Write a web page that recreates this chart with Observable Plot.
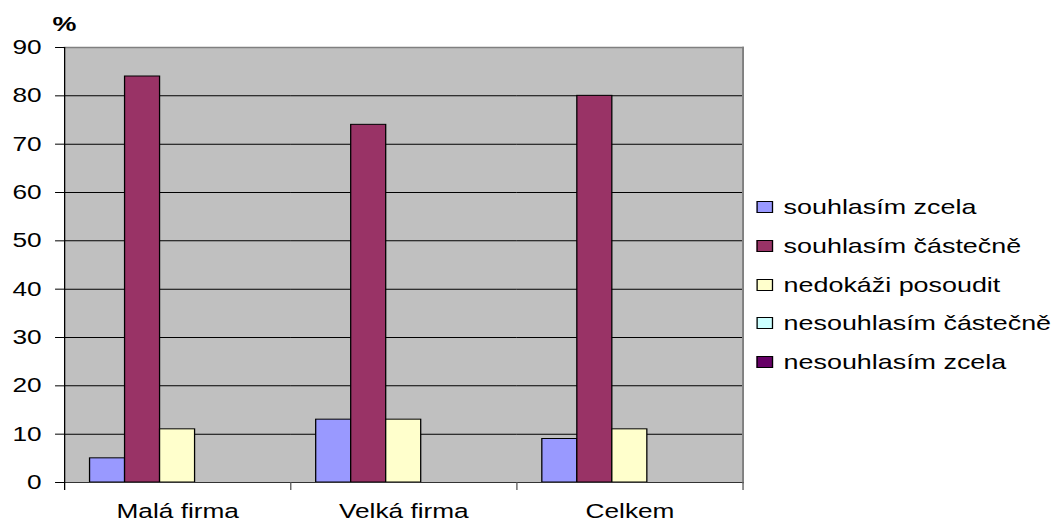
<!DOCTYPE html>
<html>
<head>
<meta charset="utf-8">
<script src="https://cdn.jsdelivr.net/npm/d3@7"></script>
<script src="https://cdn.jsdelivr.net/npm/@observablehq/plot@0.6"></script>
<style>
  html, body { margin: 0; padding: 0; background: #fff; overflow: hidden; }
  #wrap { position: relative; width: 828px; height: 523px; transform: scaleX(1.28); transform-origin: 0 0;
          font-family: "Liberation Sans", Arial, sans-serif; color: #000; }
  #chart { position: absolute; left: 0; top: 0; }
  #unit { position: absolute; left: 41px; top: 13px; font-size: 21px; font-weight: bold; line-height: 21px; }
  #legend { position: absolute; left: 590.6px; top: 187.6px; }
  .item { display: flex; align-items: center; height: 38.8px; font-size: 21px; white-space: nowrap; }
  .sw { width: 11px; height: 10px; border: 1px solid #000; margin-right: 8.6px; flex: none; }
</style>
</head>
<body>
<div id="wrap">
  <div id="unit">%</div>
  <div id="chart"></div>
  <div id="legend"></div>
</div>
<script>
const categories = ["Malá firma", "Velká firma", "Celkem"];
const series = ["souhlasím zcela", "souhlasím částečně", "nedokáži posoudit", "nesouhlasím částečně", "nesouhlasím zcela"];
const colors = ["#9999FF", "#993366", "#FFFFCC", "#CCFFFF", "#660066"];
const souhlasimZcela = [5, 13, 9];
const souhlasimCastecne = [84, 74, 80];
const nedokaziPosoudit = [11, 13, 11];
const nesouhlasimCastecne = [0, 0, 0];
const nesouhlasimZcela = [0, 0, 0];
const yTicks = [0, 10, 20, 30, 40, 50, 60, 70, 80, 90];

const seriesValues = [souhlasimZcela, souhlasimCastecne, nedokaziPosoudit, nesouhlasimCastecne, nesouhlasimZcela];
const data = [];
categories.forEach((c, i) => series.forEach((s, k) => data.push({cat: c, series: s, value: seriesValues[k][i]})));

const font = {fontSize: 20.5, fontFamily: "Liberation Sans, Arial, sans-serif"};

const chart = Plot.plot({
  width: 828,
  height: 523,
  marginLeft: 50,
  marginRight: 248,
  marginTop: 47,
  marginBottom: 41,
  style: {color: "#000", background: "transparent", fontFamily: "Liberation Sans, Arial, sans-serif"},
  fx: {domain: categories, padding: 0, round: false},
  x: {domain: series, paddingInner: 0, paddingOuter: 0.73, round: false, axis: null},
  y: {domain: [0, 90]},
  color: {domain: series, range: colors},
  marks: [
    Plot.frame({facet: "super", fill: "#C0C0C0"}),
    Plot.gridY(yTicks, {stroke: "#000", strokeOpacity: 1}),
    Plot.frame({facet: "super", anchor: "top", stroke: "#808080", strokeWidth: 1.5}),
    Plot.frame({facet: "super", anchor: "right", stroke: "#808080", strokeWidth: 1.5}),
    Plot.barY(data, {fx: "cat", x: "series", y: "value", fill: "series", stroke: "#000", strokeWidth: 1}),
    Plot.ruleY([0], {stroke: "#333"}),
    Plot.frame({anchor: "right", stroke: "#555", insetTop: 435, insetBottom: -7}),
    Plot.frame({facet: "super", anchor: "left", stroke: "#000", insetBottom: -7}),
    Plot.axisY(yTicks, {tickSize: 7, tickPadding: 11, label: null, ...font}),
    Plot.axisFx({anchor: "bottom", tickSize: 0, tickPadding: 21, label: null, ...font})
  ]
});
document.getElementById("chart").appendChild(chart);

const legend = document.getElementById("legend");
series.forEach((s, k) => {
  const row = document.createElement("div");
  row.className = "item";
  const sw = document.createElement("span");
  sw.className = "sw";
  sw.style.background = colors[k];
  const t = document.createElement("span");
  t.textContent = s;
  row.appendChild(sw);
  row.appendChild(t);
  legend.appendChild(row);
});
</script>
</body>
</html>
